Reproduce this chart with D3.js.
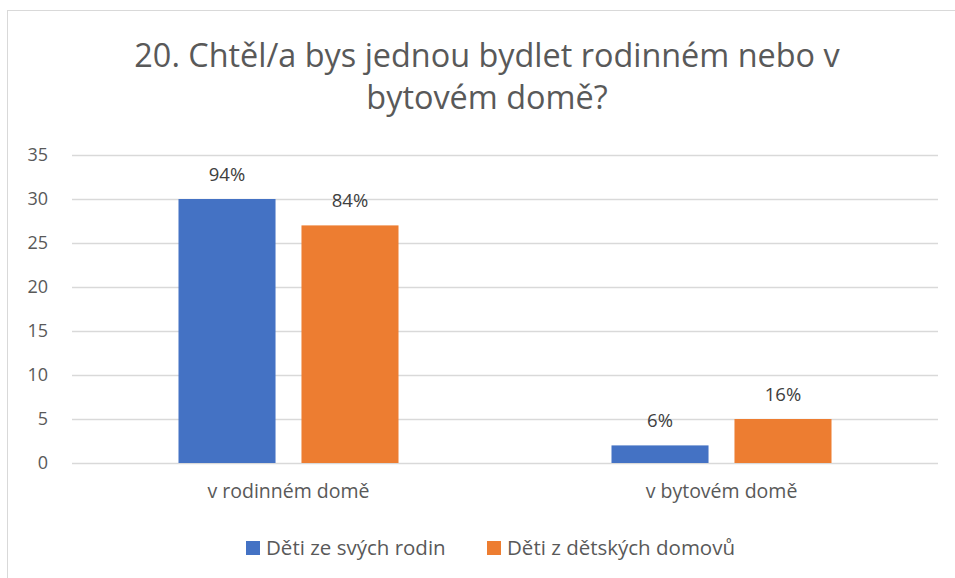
<!DOCTYPE html>
<html>
<head>
<meta charset="utf-8">
<script src="https://cdn.jsdelivr.net/npm/d3@7"></script>
<style>
  body { margin: 0; background: #fff; }
  svg text { font-family: "Open Sans", "Noto Sans", sans-serif; }
</style>
</head>
<body>
<div id="chart"></div>
<script>
// chart data
var categories = ["v rodinném domě", "v bytovém domě"];
var seriesNames = ["Děti ze svých rodin", "Děti z dětských domovů"];
var seriesColors = ["#4472C4", "#ED7D31"];
var valuesFamily = [30, 2];
var valuesHomes = [27, 5];
var labelsFamily = ["94%", "6%"];
var labelsHomes = ["84%", "16%"];
var yTicks = [0, 5, 10, 15, 20, 25, 30, 35];
var titleLines = ["20. Chtěl/a bys jednou bydlet rodinném nebo v", "bytovém domě?"];

var series = [
    {name: seriesNames[0], color: seriesColors[0], values: valuesFamily, labels: labelsFamily},
    {name: seriesNames[1], color: seriesColors[1], values: valuesHomes, labels: labelsHomes}
];

var width = 955, height = 578;
var plotLeft = 72, plotRight = 938, plotTop = 155, plotBottom = 463;

var svg = d3.select("#chart")
    .append("svg")
    .attr("width", width)
    .attr("height", height);

// chart border
svg.append("rect")
    .attr("x", 7.5)
    .attr("y", 10.5)
    .attr("width", 1000)
    .attr("height", 1000)
    .attr("fill", "#fff")
    .attr("stroke", "#d9d9d9")
    .attr("stroke-width", 1);

svg.selectAll("text.title")
    .data(titleLines)
    .enter()
    .append("text")
    .attr("class", "title")
    .attr("x", 487)
    .attr("y", function(d, i) { return 67 + i * 42; })
    .attr("text-anchor", "middle")
    .attr("font-size", "32.4px")
    .attr("fill", "#595959")
    .text(function(d) { return d; });

var y = d3.scaleLinear().domain([0, 35]).range([plotBottom, plotTop]);
var x0 = d3.scaleBand().domain(categories).range([plotLeft, plotRight]);
var x1 = d3.scaleBand().domain(seriesNames).range([0, x0.bandwidth()])
    .paddingInner(0.211).paddingOuter(0.866);

// y axis + gridlines
var yAxis = svg.append("g")
    .attr("transform", "translate(" + plotLeft + ",0)")
    .call(d3.axisLeft(y).tickValues(yTicks).tickSize(-(plotRight - plotLeft)).tickPadding(24));
yAxis.select(".domain").remove();
yAxis.selectAll(".tick line").attr("stroke", "#d9d9d9").attr("stroke-width", 1.3);
yAxis.selectAll(".tick text")
    .attr("font-size", "18px")
    .attr("fill", "#595959")
    .attr("font-family", "Open Sans")
    .attr("text-anchor", "end");

var groups = svg.selectAll("g.cat")
    .data(categories)
    .enter()
    .append("g")
    .attr("class", "cat")
    .attr("transform", function(d) { return "translate(" + x0(d) + ",0)"; });

series.forEach(function(s) {
    groups.append("rect")
        .attr("x", x1(s.name))
        .attr("y", function(d, i) { return y(s.values[i]); })
        .attr("width", x1.bandwidth())
        .attr("height", function(d, i) { return plotBottom - y(s.values[i]); })
        .attr("fill", s.color);

    groups.append("text")
        .attr("x", x1(s.name) + x1.bandwidth() / 2)
        .attr("y", function(d, i) { return y(s.values[i]) - 18; })
        .attr("text-anchor", "middle")
        .attr("font-size", "18.5px")
        .attr("fill", "#404040")
        .text(function(d, i) { return s.labels[i]; });
});

// category labels
var xAxis = svg.append("g")
    .attr("transform", "translate(0," + plotBottom + ")")
    .call(d3.axisBottom(x0).tickSize(0).tickPadding(21));
xAxis.select(".domain").remove();
xAxis.selectAll(".tick text")
    .attr("font-size", "19.5px")
    .attr("font-family", "Open Sans")
    .attr("fill", "#595959");

// legend
var legend = svg.append("g");
var legendX = [246, 487];
series.forEach(function(s, i) {
    legend.append("rect")
        .attr("x", legendX[i])
        .attr("y", 541)
        .attr("width", 14)
        .attr("height", 14)
        .attr("fill", s.color);
    legend.append("text")
        .attr("x", legendX[i] + 20)
        .attr("y", 555)
        .attr("font-size", "20.5px")
        .attr("fill", "#595959")
        .text(s.name);
});
</script>
</body>
</html>
